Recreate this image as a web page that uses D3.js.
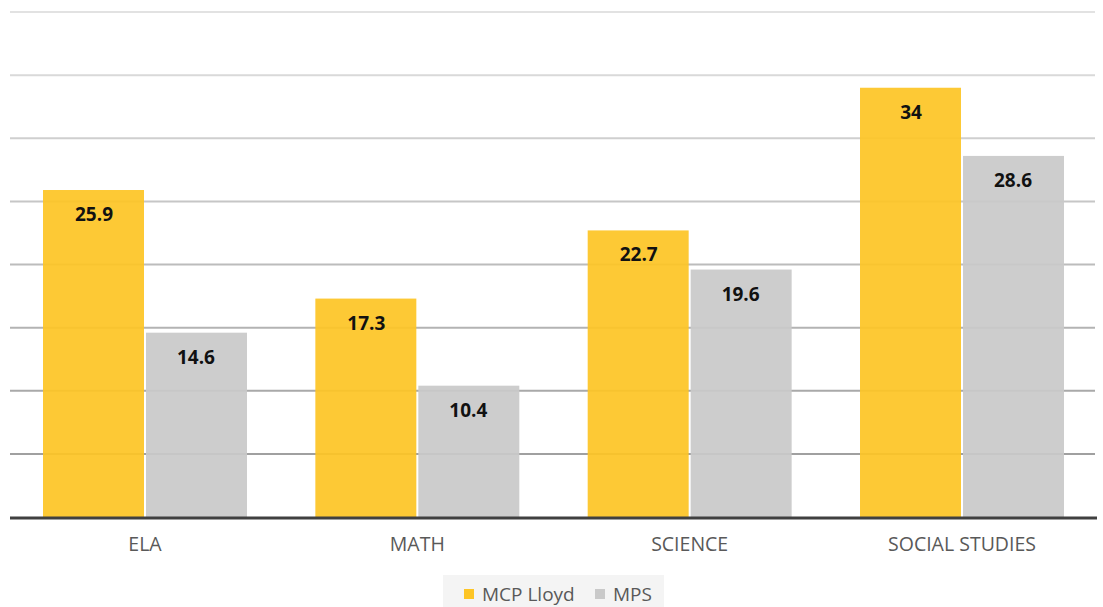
<!DOCTYPE html>
<html><head><meta charset="utf-8">
<script src="https://cdn.jsdelivr.net/npm/d3@7/dist/d3.min.js"></script>
<style>body{margin:0;background:#fff;font-family:"Open Sans",Calibri,"Liberation Sans",sans-serif}</style>
</head><body><svg id="c" width="1103" height="607"></svg>
<script>
const categories = ["ELA", "MATH", "SCIENCE", "SOCIAL STUDIES"];
const seriesNames = ["MCP Lloyd", "MPS"];
const lloyd = [25.9, 17.3, 22.7, 34];
const mps = [14.6, 10.4, 19.6, 28.6];
const yTicks = [0, 5, 10, 15, 20, 25, 30, 35, 40];
const colors = ["#FDC526", "#C9C9C9"];

(function () {
const svg = d3.select("#c");
const pLeft = 10, pRight = 1097, pTop = 12, pBottom = 517;
const x = d3.scaleBand().domain(categories).range([pLeft, pRight]).paddingInner(0.251).paddingOuter(0.1212);
const xs = d3.scaleBand().domain(seriesNames).range([0, x.bandwidth()]);
const y = d3.scaleLinear().domain([0, 40]).range([pBottom, pTop]);
const gc = d3.scaleLinear().domain([40, 5]).range(["#e2e2e2", "#a0a0a0"]);

svg.append("g").selectAll("line").data(yTicks.filter(t => t > 0)).join("line")
  .attr("x1", pLeft).attr("x2", pRight - 2)
  .attr("y1", d => y(d)).attr("y2", d => y(d))
  .attr("stroke", d => gc(d)).attr("stroke-width", 2);

const data = categories.map((c, i) => ({c, vals: [lloyd[i], mps[i]]}));
const g = svg.append("g").selectAll("g").data(data).join("g")
  .attr("transform", d => `translate(${x(d.c)},0)`);
g.selectAll("rect").data(d => d.vals.map((v, j) => ({v, s: seriesNames[j], j}))).join("rect")
  .attr("x", d => xs(d.s) + (d.j === 1 ? 1 : 0))
  .attr("width", d => xs.bandwidth() - 1)
  .attr("y", d => y(d.v)).attr("height", d => pBottom - y(d.v))
  .attr("fill", d => colors[d.j]).attr("fill-opacity", 0.93);
g.selectAll("text").data(d => d.vals.map((v, j) => ({v, s: seriesNames[j], j}))).join("text")
  .attr("x", d => xs(d.s) + xs.bandwidth() / 2)
  .attr("y", d => y(d.v) + 31)
  .attr("text-anchor", "middle")
  .attr("font-size", 19).attr("font-weight", "bold").attr("fill", "#111")
  .text(d => d.v);

svg.append("line").attr("x1", pLeft).attr("x2", pRight).attr("y1", pBottom + 1).attr("y2", pBottom + 1)
  .attr("stroke", "#404040").attr("stroke-width", 3);

const xa = svg.append("g").attr("transform", `translate(0,${pBottom})`)
  .call(d3.axisBottom(x).tickSize(0).tickPadding(20));
xa.select(".domain").remove();
xa.selectAll("text").attr("font-size", 19.5).attr("fill", "#595959")
  .attr("font-family", "'Open Sans',sans-serif");

const lg = svg.append("g");
lg.append("rect").attr("x", 443).attr("y", 575).attr("width", 221).attr("height", 32).attr("fill", "#f4f4f4");
const items = [{n: seriesNames[0], x: 464}, {n: seriesNames[1], x: 595}];
items.forEach((it, i) => {
  lg.append("rect").attr("x", it.x).attr("y", 589).attr("width", 10).attr("height", 10).attr("fill", colors[i]);
  lg.append("text").attr("x", it.x + 18).attr("y", 601).attr("font-size", 19).attr("fill", "#595959").text(it.n);
});
})();
</script></body></html>
